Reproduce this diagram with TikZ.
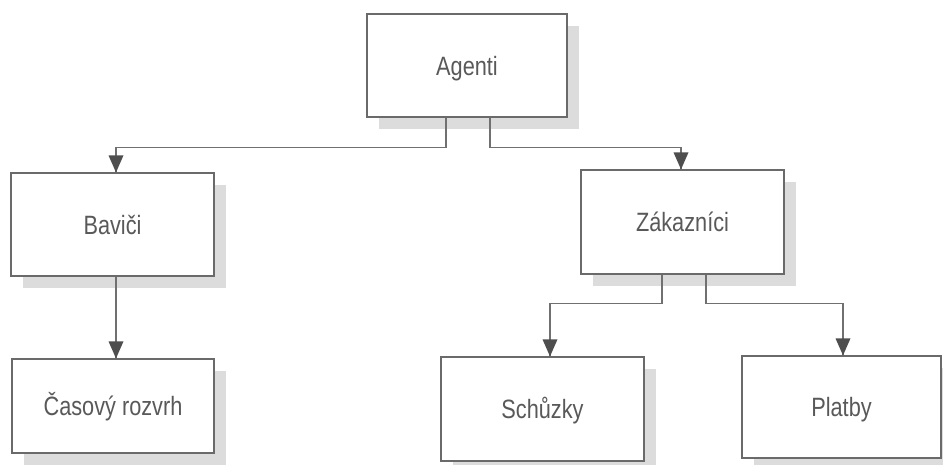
\documentclass[tikz,border=0pt]{standalone}
\usepackage{fontspec}
\setmainfont{Liberation Sans}[FakeStretch=0.82]
\usetikzlibrary{shadows}
\definecolor{boxline}{HTML}{6A6A6A}
\definecolor{wire}{HTML}{707070}
\definecolor{tipfill}{HTML}{4E4E4E}
\definecolor{labeltext}{HTML}{595959}
\definecolor{shade}{HTML}{DCDCDC}
\tikzset{
  unit/.style={draw=boxline, line width=1.2pt, fill=white, rectangle,
    inner sep=0pt, anchor=center, text=labeltext,
    font=\fontsize{26.5}{30}\selectfont, text height=19pt, text depth=0pt,
    drop shadow={shadow xshift=12pt, shadow yshift=-12pt, fill=shade, opacity=1}},
  wire/.style={draw=wire, line width=1.1pt},
  tip/.style={fill=tipfill},
}
% arrow head: filled triangle whose point touches the given spot (y grows downward)
\newcommand{\headat}[1]{\fill[tip] #1 -- ++(-7.5,-17) -- ++(15,0) -- cycle;}
\begin{document}
\begin{tikzpicture}[x=1pt,y=-1pt]
\useasboundingbox (0,0) rectangle (943,464);

\node[unit, minimum width=200pt, minimum height=103pt] (agenti)   at (467,65.5)  {Agenti};
\node[unit, minimum width=203pt, minimum height=103pt] (bavici)   at (112.5,224.5) {Baviči};
\node[unit, minimum width=203pt, minimum height=104pt] (zakaznici) at (682.5,222) {Zákazníci};
\node[unit, minimum width=202pt, minimum height=94pt]  (rozvrh)   at (113,406)   {Časový rozvrh};
\node[unit, minimum width=203pt, minimum height=104pt] (schuzky)  at (542.5,409) {Schůzky};
\node[unit, minimum width=199pt, minimum height=102pt] (platby)   at (841.5,407) {Platby};

\draw[wire] ([xshift=-21pt]agenti.south) -- ++(0,30) -| ([xshift=3.5pt]bavici.north);
\draw[wire] ([xshift=23pt]agenti.south) -- ++(0,30) -| ([xshift=-1.5pt]zakaznici.north);
\draw[wire] ([xshift=3.5pt]bavici.south) -- ([xshift=3.5pt]bavici.south |- rozvrh.north);
\draw[wire] ([xshift=-20.5pt]zakaznici.south) -- ++(0,29) -| ([xshift=7.5pt]schuzky.north);
\draw[wire] ([xshift=23.5pt]zakaznici.south) -- ++(0,29) -| ([xshift=1.5pt]platby.north);

\headat{([xshift=3.5pt]bavici.north)}
\headat{([xshift=-1.5pt]zakaznici.north)}
\headat{([xshift=3.5pt]bavici.south |- rozvrh.north)}
\headat{([xshift=7.5pt]schuzky.north)}
\headat{([xshift=1.5pt]platby.north)}
\end{tikzpicture}
\end{document}
